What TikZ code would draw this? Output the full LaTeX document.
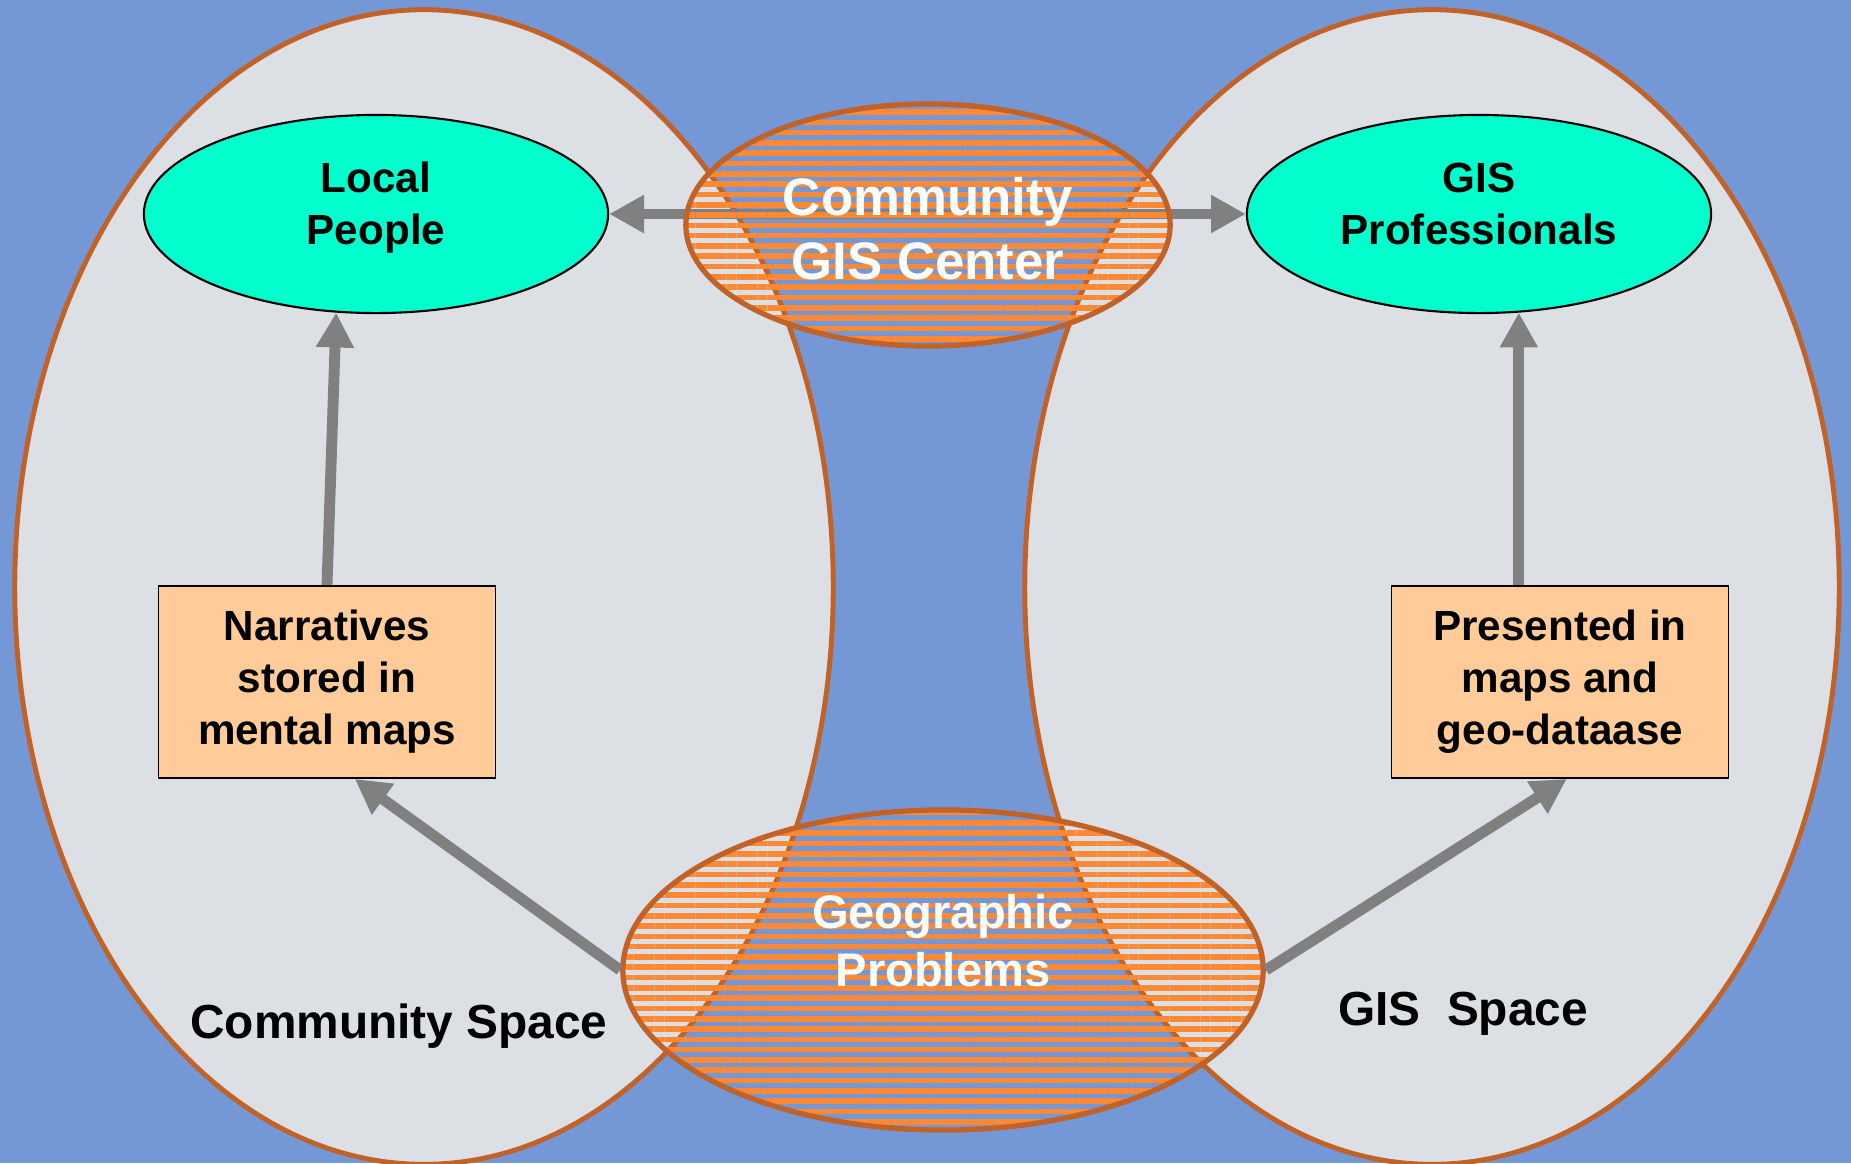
\documentclass[tikz,border=0pt]{standalone}
\usepackage{fontspec}
\setmainfont{Liberation Sans}
\usetikzlibrary{shapes.geometric,arrows.meta,patterns.meta}
\definecolor{bgblue}{RGB}{116,151,214}
\definecolor{spacegray}{RGB}{220,223,228}
\definecolor{rimbrown}{RGB}{193,98,40}
\definecolor{actorcyan}{RGB}{0,255,204}
\definecolor{notepeach}{RGB}{255,204,153}
\definecolor{stripeorange}{RGB}{255,136,51}
\definecolor{arrowgray}{RGB}{128,128,128}
\begin{document}
\begin{tikzpicture}[x=0.01cm,y=-0.01cm,
  space/.style={ellipse,fill=spacegray,draw=rimbrown,line width=1.4pt,inner sep=0pt},
  actor/.style={ellipse,fill=actorcyan,draw=black,line width=0.6pt,inner sep=0pt,
    minimum width=4.64cm,minimum height=1.98cm},
  actortext/.style={align=center,font=\bfseries\fontsize{12}{14.8}\selectfont},
  note/.style={rectangle,fill=notepeach,draw=black,line width=0.5pt,minimum width=3.37cm,
    minimum height=1.92cm,align=center,font=\bfseries\fontsize{12}{14.8}\selectfont},
  hub/.style={ellipse,draw=rimbrown,line width=1.5pt,inner sep=0pt,
    pattern={Lines[angle=0,distance=2.93pt,line width=1.6pt]},pattern color=stripeorange},
  flow/.style={draw=arrowgray,line width=3.1pt},
  >={Triangle[length=9.9pt,width=10.2pt]}]
\fill[bgblue] (0,0) rectangle (1851,1163);
\useasboundingbox (0,0) rectangle (1851,1163);
% the two spaces
\node[space,minimum width=8.18cm,minimum height=11.54cm] (comspace) at (424,587) {};
\node[space,minimum width=8.14cm,minimum height=11.54cm] (gisspace) at (1432,587) {};
\node[font=\bfseries\fontsize{13.6}{16}\selectfont] (comlabel) at (399,1026) {Community Space};
\node[font=\bfseries\fontsize{13.6}{16}\selectfont] (gislabel) at (1463,1014) {GIS~ Space};
% people and knowledge
\node[actor] (local) at (376,214) {};
\node[actortext] (localtext) at (376,208) {Local\\People};
\node[actor] (gispro) at (1479,214) {};
\node[actortext] (gisprotext) at (1479,204) {GIS\\Professionals};
\node[note] (narr) at (327,682) {Narratives\\stored in\\mental maps};
\node[note] (pres) at (1560,682) {Presented in\\maps and\\geo-dataase};
\draw[flow,->] (narr.north) -- (local.248);
\draw[flow,->] (pres.north -| gispro.292) -- (gispro.292);
\draw[flow,<->] (local) -- (gispro);
% striped overlaps
\node[hub,minimum width=6.40cm,minimum height=3.20cm] (geo) at (943,970) {};
\node[text=white,align=center,font=\bfseries\fontsize{13.4}{16.5}\selectfont] (geotext) at (943,941) {Geographic\\Problems};
\draw[flow,->] (geo.west) -- (narr.-74);
\draw[flow,->] (geo.east) -- (pres.-86);
\node[hub,minimum width=4.84cm,minimum height=2.42cm] (center) at (928,225) {};
\node[text=white,align=center,font=\bfseries\fontsize{15}{18.2}\selectfont] (centertext) at (928,229) {Community\\GIS Center};
\end{tikzpicture}
\end{document}
